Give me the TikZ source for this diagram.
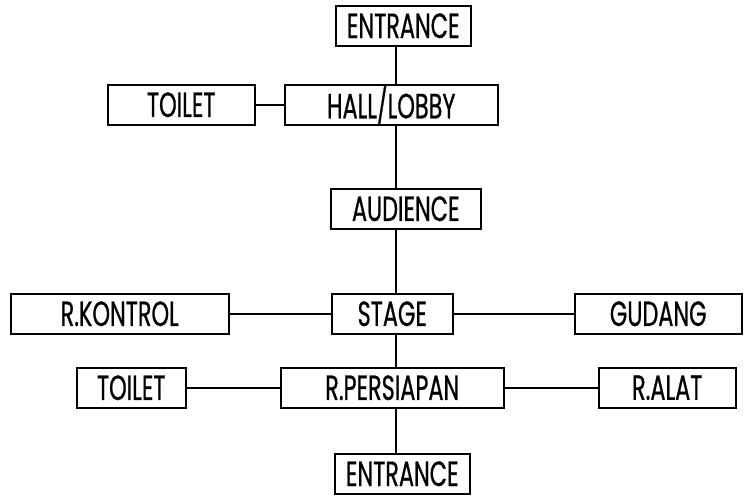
\documentclass[tikz,border=0pt]{standalone}
\usepackage{fontspec}
\setmainfont[FakeStretch=0.64, FakeBold=0.6]{Poppins}
\begin{document}
\begin{tikzpicture}[x=1pt,y=-1pt,
  box/.style={draw=black, line width=1.5pt, inner sep=0pt, minimum height=40pt,
    font=\fontsize{35}{35}\selectfont, anchor=north west, text=black},
  link/.style={draw=black, line width=1.8pt}]
\useasboundingbox (0,0) rectangle (746,498);
\fill[white] (0,0) rectangle (746,498);
% nodes: top-left corner, width
\node[box, minimum width=135pt] (ent1) at (335,5) {ENTRANCE};
\node[box, minimum width=213pt] (hall) at (284,84) {HALL/LOBBY};
\node[box, minimum width=147pt] (toi1) at (107,84) {TOILET};
\node[box, minimum width=150pt] (aud) at (330,188) {AUDIENCE};
\node[box, minimum width=121pt] (stage) at (331,293) {STAGE};
\node[box, minimum width=218pt] (kon) at (10,293) {R.KONTROL};
\node[box, minimum width=167pt] (gud) at (574,293) {GUDANG};
\node[box, minimum width=223pt] (pers) at (280,367) {R.PERSIAPAN};
\node[box, minimum width=109pt] (toi2) at (76,367) {TOILET};
\node[box, minimum width=137pt] (alat) at (598,367) {R.ALAT};
\node[box, minimum width=135pt] (ent2) at (334,453) {ENTRANCE};
% connectors
\coordinate (vx) at (396,0);
\draw[link] (ent1.south -| vx) -- (hall.north -| vx);
\draw[link] (hall.south -| vx) -- (aud.north -| vx);
\draw[link] (aud.south -| vx) -- (stage.north -| vx);
\draw[link] (stage.south -| vx) -- (pers.north -| vx);
\draw[link] (pers.south -| vx) -- (ent2.north -| vx);
\draw[link] (toi1.east) -- (hall.west);
\draw[link] (kon.east) -- (stage.west);
\draw[link] (stage.east) -- (gud.west);
\draw[link] (toi2.east) -- (pers.west);
\draw[link] (pers.east) -- (alat.west);
\end{tikzpicture}
\end{document}
